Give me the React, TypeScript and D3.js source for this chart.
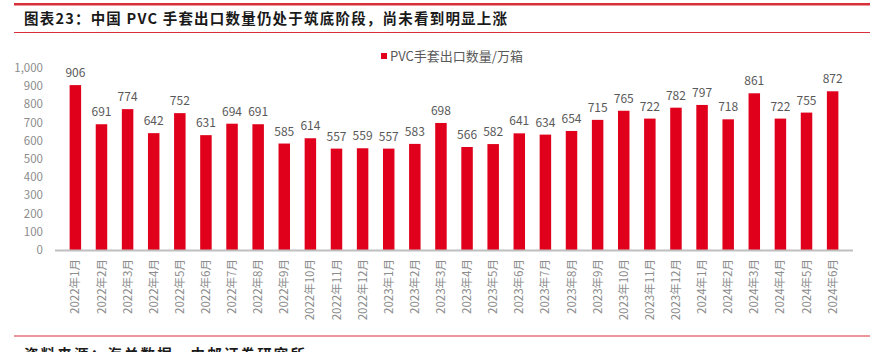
import { useEffect, useRef } from 'react';
import * as d3 from 'd3';

const months = [
  '2022年1月', '2022年2月', '2022年3月', '2022年4月', '2022年5月', '2022年6月',
  '2022年7月', '2022年8月', '2022年9月', '2022年10月', '2022年11月', '2022年12月',
  '2023年1月', '2023年2月', '2023年3月', '2023年4月', '2023年5月', '2023年6月',
  '2023年7月', '2023年8月', '2023年9月', '2023年10月', '2023年11月', '2023年12月',
  '2024年1月', '2024年2月', '2024年3月', '2024年4月', '2024年5月', '2024年6月',
];
const exportVolume = [
  906, 691, 774, 642, 752, 631, 694, 691, 585, 614, 557, 559,
  557, 583, 698, 566, 582, 641, 634, 654, 715, 765, 722, 782,
  797, 718, 861, 722, 755, 872,
];
const yTicks = [0, 100, 200, 300, 400, 500, 600, 700, 800, 900, 1000];

const W = 883;
const H = 352;
const RED = '#e0001b';
const FONT = '"Noto Sans CJK SC", "Liberation Sans", sans-serif';

export default function App() {
  const svgRef = useRef<SVGSVGElement>(null);

  useEffect(() => {
    if (!svgRef.current) return;
    const svg = d3.select(svgRef.current);
    svg.selectAll('*').remove();

    // header
    svg.append('rect').attr('x', 14).attr('y', 3).attr('width', 856).attr('height', 2.5).attr('fill', '#d7303a');
    svg.append('text')
      .attr('x', 24).attr('y', 24)
      .attr('font-family', FONT).attr('font-size', 14.5).attr('font-weight', 700)
      .attr('fill', '#1a1a1a')
      .attr('textLength', 483).attr('lengthAdjust', 'spacing')
      .text('图表23：中国 PVC 手套出口数量仍处于筑底阶段，尚未看到明显上涨');
    svg.append('rect').attr('x', 14).attr('y', 32).attr('width', 856).attr('height', 1).attr('fill', '#d7303a');

    const x = d3.scaleBand<string>().domain(months).range([55, 853]).padding(0.56);
    const y = d3.scaleLinear().domain([0, 1000]).range([250, 68]);

    // y labels
    svg.append('g').selectAll('text').data(yTicks).join('text')
      .attr('x', 43).attr('y', d => y(d)).attr('dy', '0.35em')
      .attr('text-anchor', 'end')
      .attr('font-family', FONT).attr('font-size', 11.5).attr('fill', '#8c8c8c')
      .text(d => d3.format(',')(d));

    // bars
    svg.append('g').selectAll('rect').data(exportVolume).join('rect')
      .attr('x', (_, i) => x(months[i])!)
      .attr('y', d => y(d))
      .attr('width', x.bandwidth())
      .attr('height', d => y(0) - y(d))
      .attr('fill', RED);

    // value labels
    svg.append('g').selectAll('text').data(exportVolume).join('text')
      .attr('x', (_, i) => x(months[i])! + x.bandwidth() / 2)
      .attr('y', d => y(d) - 8)
      .attr('text-anchor', 'middle')
      .attr('font-family', FONT).attr('font-size', 12).attr('fill', '#595959')
      .text(d => d);

    // baseline
    svg.append('line')
      .attr('x1', 55).attr('x2', 853).attr('y1', 250.5).attr('y2', 250.5)
      .attr('stroke', '#bfbfbf').attr('stroke-width', 2);

    // x labels
    svg.append('g').selectAll('text').data(months).join('text')
      .attr('transform', d => `translate(${x(d)! + x.bandwidth() / 2},259) rotate(-90)`)
      .attr('dy', '0.35em')
      .attr('text-anchor', 'end')
      .attr('font-family', FONT).attr('font-size', 11.5).attr('fill', '#8c8c8c')
      .text(d => d);

    // legend
    svg.append('rect').attr('x', 381).attr('y', 53).attr('width', 6).attr('height', 6).attr('fill', RED);
    svg.append('text')
      .attr('x', 390).attr('y', 56).attr('dy', '0.35em')
      .attr('font-family', FONT).attr('font-size', 13).attr('fill', '#595959')
      .text('PVC手套出口数量/万箱');

    // footer (cut off at the bottom edge, as in the source image)
    svg.append('rect').attr('x', 14).attr('y', 335.5).attr('width', 856).attr('height', 1).attr('fill', '#d7303a');
    svg.append('text')
      .attr('x', 24).attr('y', 360)
      .attr('font-family', FONT).attr('font-size', 14.5).attr('font-weight', 700)
      .attr('fill', '#1a1a1a')
      .attr('textLength', 281).attr('lengthAdjust', 'spacing')
      .text('资料来源：海关数据，中邮证券研究所');
  }, []);

  return (
    <svg
      ref={svgRef}
      width={W}
      height={H}
      style={{ position: 'absolute', left: 0, top: 0, background: '#fff' }}
    />
  );
}
